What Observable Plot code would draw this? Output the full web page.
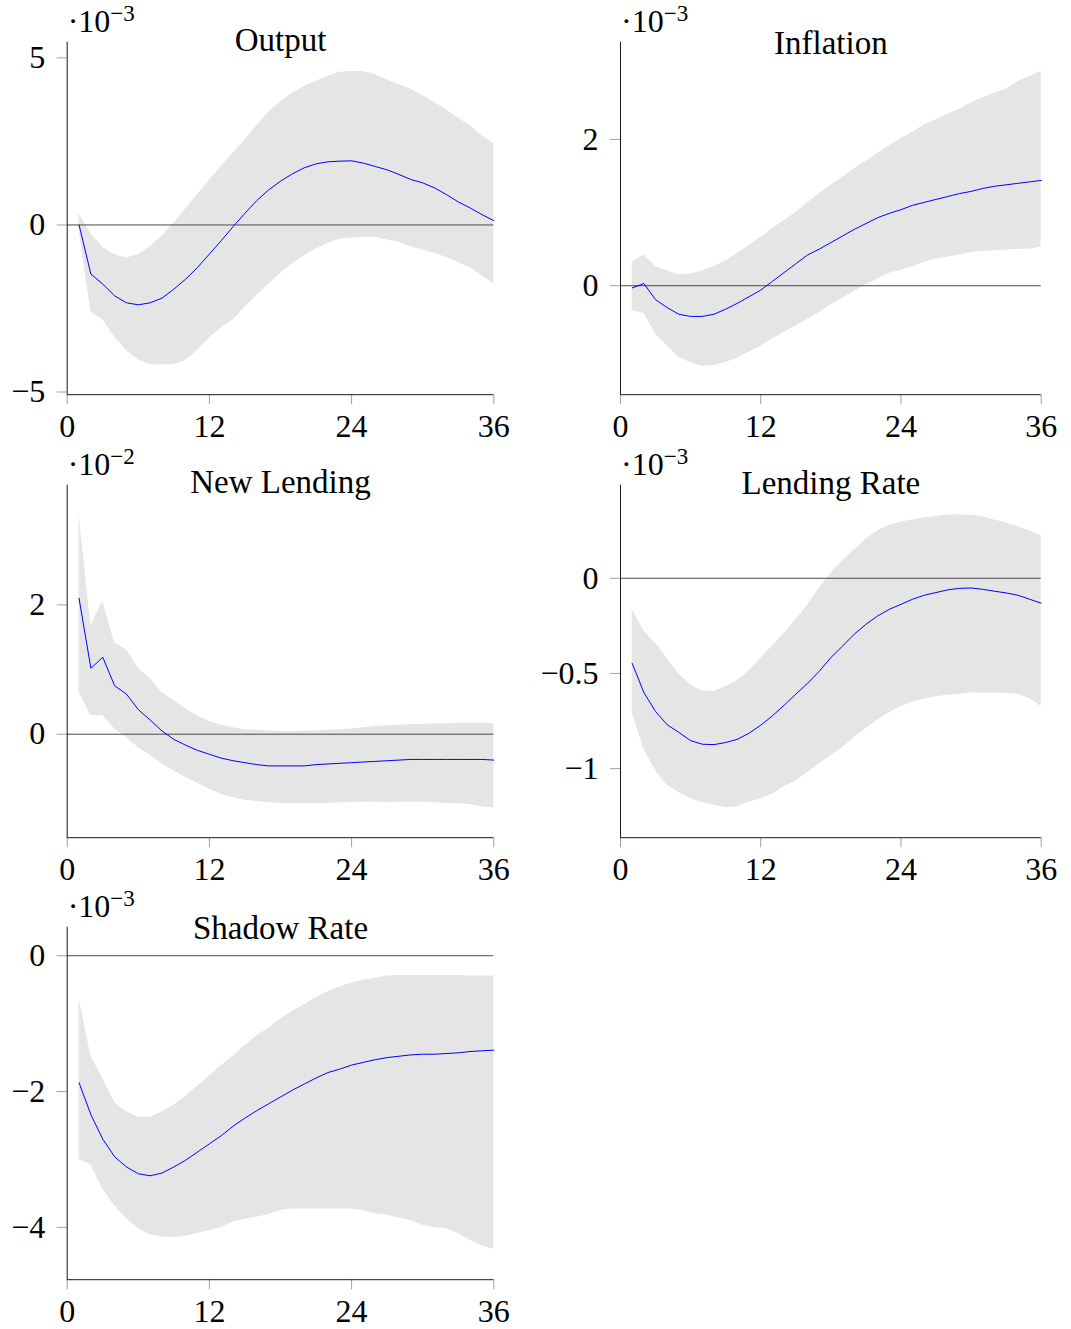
<!DOCTYPE html>
<html><head><meta charset="utf-8">
<script src="https://cdn.jsdelivr.net/npm/d3@7"></script>
<script src="https://cdn.jsdelivr.net/npm/@observablehq/plot@0.6"></script>
<style>
body{margin:0;background:#fff}
#wrap{position:relative;width:1071px;height:1329px;}
#wrap svg{position:absolute;overflow:visible}
</style></head><body><div id="wrap"></div>
<script>
// ---- data ----
const horizons = [1,2,3,4,5,6,7,8,9,10,11,12,13,14,15,16,17,18,19,20,21,22,23,24,25,26,27,28,29,30,31,32,33,34,35,36];
const xTicks = [0, 12, 24, 36];

const titles = ["Output", "Inflation", "New Lending", "Lending Rate", "Shadow Rate"];
const exponents = ["−3", "−3", "−2", "−3", "−3"];

const outputMed = [0, -1.47, -1.77, -2.12, -2.33, -2.39, -2.33, -2.19, -1.92, -1.62, -1.27, -0.87, -0.47, -0.05, 0.35, 0.73, 1.05, 1.31, 1.53, 1.71, 1.83, 1.89, 1.91, 1.92, 1.85, 1.75, 1.65, 1.51, 1.36, 1.26, 1.11, 0.91, 0.69, 0.51, 0.31, 0.13];
const outputHi = [0.33, -0.27, -0.67, -0.89, -0.99, -0.89, -0.65, -0.33, 0.05, 0.48, 0.91, 1.33, 1.75, 2.15, 2.54, 2.97, 3.37, 3.69, 3.94, 4.14, 4.30, 4.44, 4.57, 4.59, 4.59, 4.50, 4.34, 4.20, 4.06, 3.87, 3.67, 3.44, 3.20, 2.97, 2.67, 2.43];
const outputLo = [-0.15, -2.61, -2.84, -3.36, -3.76, -4.04, -4.18, -4.19, -4.18, -4.06, -3.76, -3.38, -3.09, -2.84, -2.47, -2.12, -1.77, -1.45, -1.17, -0.92, -0.72, -0.55, -0.43, -0.39, -0.37, -0.37, -0.45, -0.52, -0.65, -0.75, -0.85, -0.97, -1.12, -1.27, -1.52, -1.77];

const inflMed = [-0.03, 0.03, -0.19, -0.30, -0.39, -0.42, -0.42, -0.39, -0.32, -0.24, -0.15, -0.06, 0.06, 0.18, 0.30, 0.42, 0.50, 0.59, 0.68, 0.77, 0.85, 0.93, 0.99, 1.04, 1.10, 1.14, 1.18, 1.22, 1.26, 1.29, 1.33, 1.36, 1.38, 1.40, 1.42, 1.44];
const inflHi = [0.32, 0.42, 0.26, 0.20, 0.15, 0.16, 0.20, 0.26, 0.34, 0.44, 0.55, 0.66, 0.78, 0.89, 1.00, 1.13, 1.26, 1.37, 1.48, 1.60, 1.70, 1.81, 1.91, 2.01, 2.10, 2.20, 2.27, 2.34, 2.41, 2.50, 2.57, 2.63, 2.69, 2.79, 2.86, 2.93];
const inflLo = [-0.34, -0.38, -0.66, -0.82, -0.98, -1.05, -1.10, -1.09, -1.05, -0.99, -0.91, -0.83, -0.73, -0.64, -0.55, -0.46, -0.37, -0.26, -0.17, -0.08, 0.01, 0.09, 0.17, 0.21, 0.26, 0.32, 0.37, 0.39, 0.42, 0.45, 0.47, 0.48, 0.49, 0.50, 0.50, 0.53];

const lendMed = [2.10, 1.02, 1.19, 0.75, 0.62, 0.38, 0.22, 0.05, -0.08, -0.17, -0.25, -0.31, -0.37, -0.41, -0.44, -0.47, -0.49, -0.49, -0.49, -0.49, -0.47, -0.46, -0.45, -0.44, -0.43, -0.42, -0.41, -0.40, -0.39, -0.39, -0.39, -0.39, -0.39, -0.39, -0.39, -0.40];
const lendHi = [3.40, 1.68, 2.05, 1.41, 1.31, 1.02, 0.86, 0.64, 0.52, 0.39, 0.28, 0.20, 0.14, 0.10, 0.07, 0.06, 0.05, 0.04, 0.04, 0.05, 0.05, 0.06, 0.07, 0.08, 0.10, 0.12, 0.13, 0.14, 0.15, 0.15, 0.16, 0.16, 0.17, 0.17, 0.17, 0.16];
const lendLo = [0.65, 0.29, 0.29, 0.08, -0.05, -0.21, -0.32, -0.46, -0.57, -0.67, -0.76, -0.85, -0.93, -0.98, -1.02, -1.04, -1.06, -1.07, -1.07, -1.07, -1.07, -1.07, -1.06, -1.06, -1.05, -1.05, -1.06, -1.05, -1.05, -1.05, -1.06, -1.07, -1.07, -1.09, -1.12, -1.14];

const rateMed = [-0.447, -0.60, -0.70, -0.77, -0.81, -0.853, -0.872, -0.874, -0.863, -0.846, -0.814, -0.772, -0.723, -0.667, -0.609, -0.552, -0.489, -0.417, -0.356, -0.294, -0.242, -0.198, -0.163, -0.137, -0.110, -0.089, -0.075, -0.061, -0.053, -0.051, -0.058, -0.068, -0.077, -0.089, -0.110, -0.131];
const rateHi = [-0.163, -0.277, -0.341, -0.422, -0.504, -0.559, -0.594, -0.595, -0.569, -0.539, -0.487, -0.422, -0.356, -0.289, -0.219, -0.142, -0.054, 0.026, 0.091, 0.149, 0.205, 0.249, 0.278, 0.296, 0.306, 0.317, 0.324, 0.331, 0.334, 0.331, 0.324, 0.306, 0.292, 0.271, 0.249, 0.222];
const rateLo = [-0.706, -0.898, -1.012, -1.088, -1.126, -1.158, -1.179, -1.193, -1.205, -1.200, -1.175, -1.158, -1.135, -1.095, -1.065, -1.021, -0.977, -0.933, -0.890, -0.837, -0.790, -0.744, -0.706, -0.674, -0.650, -0.636, -0.622, -0.615, -0.609, -0.601, -0.604, -0.604, -0.604, -0.609, -0.632, -0.674];

const shadowMed = [-1.87, -2.34, -2.70, -2.96, -3.11, -3.21, -3.24, -3.20, -3.11, -3.01, -2.89, -2.77, -2.65, -2.51, -2.39, -2.28, -2.18, -2.08, -1.98, -1.89, -1.80, -1.72, -1.67, -1.61, -1.57, -1.53, -1.50, -1.48, -1.46, -1.45, -1.45, -1.44, -1.43, -1.41, -1.40, -1.39];
const shadowHi = [-0.63, -1.48, -1.81, -2.16, -2.30, -2.38, -2.38, -2.30, -2.20, -2.07, -1.92, -1.77, -1.62, -1.48, -1.33, -1.18, -1.07, -0.93, -0.82, -0.72, -0.62, -0.53, -0.46, -0.40, -0.36, -0.33, -0.30, -0.29, -0.29, -0.29, -0.29, -0.29, -0.29, -0.30, -0.30, -0.30];
const shadowLo = [-3.00, -3.08, -3.44, -3.68, -3.87, -4.02, -4.11, -4.14, -4.15, -4.13, -4.09, -4.05, -4.00, -3.92, -3.88, -3.85, -3.81, -3.75, -3.73, -3.73, -3.73, -3.73, -3.73, -3.73, -3.75, -3.80, -3.82, -3.86, -3.90, -3.97, -4.00, -4.02, -4.09, -4.19, -4.27, -4.32];

const yTicksList = [[-5, 0, 5], [0, 2], [0, 2], [-1, -0.5, 0], [-4, -2, 0]];

// ---- layout / styling ----
const series = [
  {med: outputMed, lo: outputLo, hi: outputHi},
  {med: inflMed, lo: inflLo, hi: inflHi},
  {med: lendMed, lo: lendLo, hi: lendHi},
  {med: rateMed, lo: rateLo, hi: rateHi},
  {med: shadowMed, lo: shadowLo, hi: shadowHi}
];
const yDomains = [[-5.08, 5.47], [-1.49, 3.33], [-1.60, 3.85], [-1.363, 0.489], [-4.77, 0.42]];
const titleBaselines = [50, 53, 49, 50, 53];
const rowTops = [0, 442.6, 885];
const FONT = "'Liberation Serif', 'Times New Roman', serif";
const MT = 41.7, MB = 48.8, H = 443;
const fmt = d => String(d).replace("-", "\u2212");

const wrap = document.getElementById("wrap");
series.forEach((s, i) => {
  const col = i % 2, row = Math.floor(i / 2);
  const W = col === 0 ? 535 : 531;
  const mL = col === 0 ? 66.7 : 80;
  const mR = col === 0 ? 41.7 : 30.3;
  const data = horizons.map((h, k) => ({h, med: s.med[k], lo: s.lo[k], hi: s.hi[k]}));
  const yd = yDomains[i];
  const svg = Plot.plot({
    width: W, height: H,
    marginLeft: mL, marginRight: mR, marginTop: MT, marginBottom: MB,
    style: {fontFamily: FONT, fontSize: "32px", background: "transparent", overflow: "visible", color: "black"},
    x: {domain: [0, 36], label: null},
    y: {domain: yd, label: null},
    marks: [
      Plot.areaY(data, {x: "h", y1: "lo", y2: "hi", fill: "#e5e5e5"}),
      Plot.ruleY([0], {stroke: "#4a4a4a", strokeWidth: 1}),
      Plot.lineY(data, {x: "h", y: "med", stroke: "#0000ff", strokeWidth: 1}),
      Plot.axisX({ticks: xTicks, tickSize: 10, tickPadding: 10, stroke: "#a0a0a0", fill: "black", label: null, fontSize: 32, tickFormat: d => String(d)}),
      Plot.axisY({ticks: yTicksList[i], tickSize: 10, tickPadding: 12, stroke: "#a0a0a0", fill: "black", label: null, fontSize: 32, tickFormat: fmt}),
      Plot.ruleX([0], {stroke: "#1a1a1a", strokeWidth: 1}),
      Plot.ruleY([yd[0]], {stroke: "#1a1a1a", strokeWidth: 1}),
      Plot.text([titles[i]], {frameAnchor: "top", lineAnchor: "bottom", dy: titleBaselines[i] - MT, fontSize: 33, fill: "black", text: d => d})
    ]
  });
  svg.style.left = (col === 0 ? 0 : 540) + "px";
  svg.style.top = rowTops[row] + "px";
  const t = d3.select(svg).append("text")
    .attr("x", mL + 1).attr("y", 32)
    .attr("text-anchor", "start")
    .attr("font-family", FONT).attr("font-size", 32).attr("fill", "black");
  t.append("tspan").text("·10");
  t.append("tspan").attr("dy", -11).attr("font-size", 23).text(exponents[i]);
  wrap.appendChild(svg);
});
</script>
</body></html>
